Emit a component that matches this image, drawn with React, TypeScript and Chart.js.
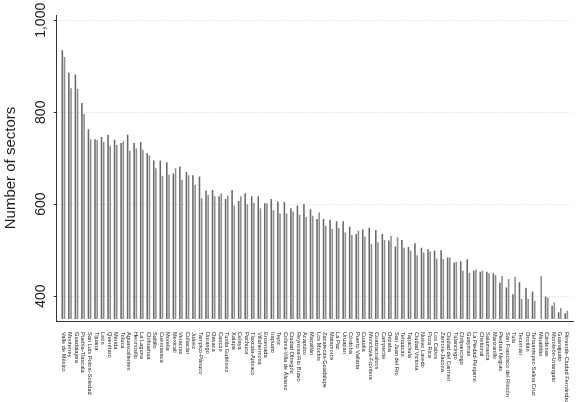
import React, { useEffect, useRef } from "react";
import { Chart, registerables } from "chart.js";

Chart.register(...registerables);

const categories: string[] = [
  "Valle de México", "Monterrey", "Guadalajara", "Puebla-Tlaxcala", "San Luis Potosí-Soledad",
  "Tijuana", "León", "Querétaro", "Mérida", "Toluca", "Aguascalientes", "Hermosillo", "La Laguna",
  "Chihuahua", "Saltillo", "Cuernavaca", "Morelia", "Mexicali", "Veracruz", "Culiacán", "Juárez",
  "Tampico-Pánuco", "Durango", "Oaxaca", "Cancún", "Tuxtla Gutiérrez", "Xalapa", "Celaya", "Pachuca",
  "Tlaxcala-Apizaco", "Villahermosa", "Ensenada", "Irapuato", "Tepic", "Colima-Villa de Álvarez",
  "Ciudad Obregón", "Reynosa-Río Bravo", "Acapulco", "Mazatlán", "Los Mochis", "Zacatecas-Guadalupe",
  "Matamoros", "La Paz", "Uruapan", "Córdoba", "Puerto Vallarta", "Cuautla", "Monclova-Frontera",
  "Coatzacoalcos", "Campeche", "Orizaba", "San Juan del Río", "Tehuacán", "Tapachula",
  "Ciudad Victoria", "Nuevo Laredo", "Poza Rica", "Los Cabos", "Zamora-Jacona", "Ciudad del Carmen",
  "Tulancingo", "Chilpancingo", "Guaymas", "La Piedad-Pénjamo", "Chetumal", "Salamanca", "Manzanillo",
  "Piedras Negras", "San Francisco del Rincón", "Tula", "Tecomán", "Ocotlán", "Tehuantepec-Salina Cruz",
  "Minatitlán", "Cárdenas", "Moroleón-Uriangato", "Guanajuato", "Rioverde-Ciudad Fernández",
];

const seriesA: (number | null)[] = [
  935, 886, 882, 820, 763, 741, 746, 751, 740, 733, 751, 733, 735, 711, 695, 695, 691, 667, 682, 670,
  663, 660, 630, 631, 617, 611, 631, 607, 624, 617, 617, 602, 611, 606, 605, 591, 597, 600, 589, 568,
  568, 566, 563, 563, 551, 535, 545, 549, 544, 535, 521, 508, 522, 507, 515, 505, 502, 499, 500, 484,
  473, 476, 480, 455, 453, 453, 450, 429, 419, 404, 430, 418, 410, null, 399, 379, 365, 363,
];

const seriesB: (number | null)[] = [
  920, 852, 851, 796, 741, 739, 735, 727, 729, 737, 716, 721, 718, 706, 678, 662, 664, 678, 653, 663,
  642, 613, 620, 617, 624, 619, 597, 617, 600, 603, 591, 602, 587, 580, 580, 584, 577, 572, 575, 582,
  553, 546, 548, 539, 533, 542, 529, 513, 517, 522, 531, 528, 505, 499, 489, 495, 497, 482, 481, 484,
  475, 455, 451, 458, 455, 450, 446, 444, 437, 442, 394, 394, 390, 444, 397, 386, 374, 368,
];

const yTicks: number[] = [400, 600, 800, 1000];
const yTickLabels: string[] = ["400", "600", "800", "1,000"];
const yTitle = "Number of sectors";

const FONT = '"Liberation Sans", Arial, Helvetica, sans-serif';

const xLabelPlugin = {
  id: "xLabelsDown",
  afterDraw(chart: any) {
    const { ctx, chartArea, scales } = chart;
    const xs = scales.x;
    ctx.save();
    ctx.fillStyle = "#222222";
    ctx.font = `5.7px ${FONT}`;
    ctx.textAlign = "left";
    ctx.textBaseline = "middle";
    categories.forEach((c, i) => {
      const x = xs.getPixelForValue(i);
      ctx.save();
      ctx.translate(x, chartArea.bottom + 11);
      ctx.rotate(Math.PI / 2);
      ctx.fillText(c, 0, 0);
      ctx.restore();
    });
    ctx.restore();
  },
};

export default function App() {
  const ref = useRef<HTMLCanvasElement | null>(null);

  useEffect(() => {
    document.body.style.margin = "0";
    const canvas = ref.current;
    if (!canvas) return;
    const toPts = (arr: (number | null)[]) => arr.map((v, i) => ({ x: i, y: v }));
    const chart = new Chart(canvas, {
      type: "bar",
      data: {
        datasets: [
          {
            data: toPts(seriesA) as any,
            backgroundColor: "#6a6a6a",
            base: 350.2,
            categoryPercentage: 0.67,
            barPercentage: 0.72,
          } as any,
          {
            data: toPts(seriesB) as any,
            backgroundColor: "#8e8e8e",
            base: 350.2,
            categoryPercentage: 0.67,
            barPercentage: 0.72,
          } as any,
        ],
      },
      options: {
        animation: false,
        responsive: false,
        devicePixelRatio: 1,
        layout: { padding: { top: 15, right: 8, left: 0, bottom: 0 } },
        plugins: { legend: { display: false }, tooltip: { enabled: false } },
        scales: {
          x: {
            type: "linear",
            offset: false,
            min: -1.03,
            max: 78.03,
            grid: { display: false },
            ticks: { display: false },
            border: { display: true, color: "#333333", width: 1 },
            afterFit: (s: any) => {
              s.height = 81;
            },
          },
          y: {
            type: "linear",
            min: 345.9,
            max: 1011.5,
            afterBuildTicks: (s: any) => {
              s.ticks = yTicks.map((v) => ({ value: v }));
            },
            afterFit: (s: any) => {
              s.width = 56.7;
            },
            grid: {
              color: "#d8d8d8",
              lineWidth: 1,
              drawTicks: true,
              tickLength: 3,
              tickColor: "#333333",
              tickBorderDash: [],
            },
            border: { display: true, color: "#333333", width: 1, dash: [1, 2] },
            ticks: {
              minRotation: 90,
              maxRotation: 90,
              crossAlign: "center",
              padding: -4.8,
              color: "#222222",
              font: { family: FONT, size: 14 },
              callback: (v: any) => {
                const idx = yTicks.indexOf(Number(v));
                return idx >= 0 ? yTickLabels[idx] : "";
              },
            },
            title: {
              display: true,
              text: yTitle,
              color: "#222222",
              font: { family: FONT, size: 15 },
              padding: { top: 2, bottom: 0 },
            },
          },
        },
      } as any,
      plugins: [xLabelPlugin],
    });
    return () => chart.destroy();
  }, []);

  return <canvas ref={ref} width={581} height={402} style={{ display: "block" }} />;
}
